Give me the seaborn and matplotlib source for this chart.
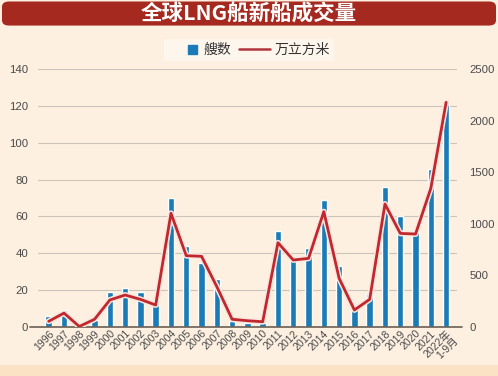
import matplotlib
matplotlib.use('Agg')
import matplotlib.pyplot as plt
import matplotlib.patheffects as pe
from matplotlib.patches import FancyBboxPatch, Rectangle, Patch
from matplotlib.lines import Line2D
from matplotlib.legend_handler import HandlerPatch
import seaborn as sns
import pandas as pd
import numpy as np

# data
years = ['1996', '1997', '1998', '1999', '2000', '2001', '2002', '2003', '2004',
         '2005', '2006', '2007', '2008', '2009', '2010', '2011', '2012', '2013',
         '2014', '2015', '2016', '2017', '2018', '2019', '2020', '2021', '2022年\n1-9月']
ships = [6, 9, 0, 4, 19, 21, 19, 12, 70, 44, 35, 26, 3, 2, 2, 52, 38, 43,
         69, 33, 10, 18, 76, 60, 52, 86, 121]
volume = [55, 135, 5, 75, 262, 310, 268, 213, 1102, 691, 685, 391, 75, 61, 51, 817,
          649, 665, 1118, 472, 165, 268, 1192, 907, 901, 1344, 2177]

bg = '#fdf0e1'
blue = '#1a7bb6'
red = '#c0282e'
num_font = ['Liberation Sans', 'Noto Sans CJK SC']

sns.set_theme(style='white')
plt.rcParams['font.family'] = ['Noto Sans CJK SC', 'DejaVu Sans']

df = pd.DataFrame({'year': years, 'ships': ships, 'volume': volume})
df['pos'] = np.arange(len(df))

fig = plt.figure(figsize=(4.98, 3.76), dpi=100, facecolor=bg)
ax = fig.add_axes([0.0763, 0.1303, 0.841, 0.6862])
ax.set_facecolor(bg)

sns.barplot(data=df, x='year', y='ships', color=blue, width=0.42,
            saturation=1, ax=ax, zorder=2)
ax.set_ylim(0, 140)
ax.set_yticks(range(0, 141, 20))
ax.set_xlim(-0.7, len(df) - 0.3)
ax.grid(axis='y', color='#cbc4ba', linewidth=0.8, zorder=0)
ax.set_axisbelow(True)
ax.set_xlabel('')
ax.set_ylabel('')
for s in ax.spines.values():
    s.set_visible(False)
ax.axhline(0, xmin=-0.02, xmax=1.013, color='#6b5f55', linewidth=1.2,
           clip_on=False, zorder=3)
ax.tick_params(axis='y', labelsize=8.2, colors='#4a4a4a', length=0, pad=7)
ax.tick_params(axis='x', labelsize=7.6, colors='#4a4a4a', length=0, pad=1)
for lab in ax.get_yticklabels():
    lab.set_family(num_font)
for lab in ax.get_xticklabels():
    lab.set_family(num_font)
plt.setp(ax.get_xticklabels(), rotation=45, ha='right', rotation_mode='anchor',
         linespacing=0.95)

ax2 = ax.twinx()
sns.lineplot(data=df, x='pos', y='volume', color=red, linewidth=2, ax=ax2,
             zorder=4,
             path_effects=[pe.withStroke(linewidth=4.2, foreground='#fbe6de')])
ax2.set_ylim(0, 2500)
ax2.set_yticks(range(0, 2501, 500))
ax2.set_xlim(-0.7, len(df) - 0.3)
ax2.set_xlabel('')
ax2.set_ylabel('')
for s in ax2.spines.values():
    s.set_visible(False)
ax2.tick_params(axis='y', labelsize=8.2, colors='#4a4a4a', length=0, pad=9)
for lab in ax2.get_yticklabels():
    lab.set_family(num_font)

# title bar
fig.patches.append(FancyBboxPatch((0.004, 0.932), 0.992, 0.064,
                                  boxstyle='round,pad=0,rounding_size=0.014',
                                  transform=fig.transFigure, facecolor='#a6291f',
                                  edgecolor='none', zorder=0))
fig.text(0.5, 0.963, '全球LNG船新船成交量', ha='center', va='center',
         color='white', fontsize=15.5, fontweight='heavy')

# bottom strip
fig.patches.append(plt.Rectangle((0, 0), 1, 0.028, transform=fig.transFigure,
                                 facecolor='#fbe2c4', edgecolor='none', zorder=0))


# small square drawn at the right end of the legend handle box
def square_handle(legend, orig_handle, xdescent, ydescent, width, height, fontsize):
    s = height * 0.95
    return Rectangle((width - s - xdescent - 1, -ydescent + (height - s) / 2), s, s)


handles = [Patch(color=blue), Line2D([], [], color='#b0343a', linewidth=1.8)]
fig.legend(handles, ['艘数', '万立方米'], loc='center', bbox_to_anchor=(0.5, 0.867),
           ncol=2, frameon=True, facecolor='#fdf8f1', edgecolor='none',
           fontsize=10, handlelength=2.2, handletextpad=0.35, columnspacing=0.6,
           borderpad=0.3, labelcolor='#333333', fancybox=True,
           handler_map={Patch: HandlerPatch(patch_func=square_handle)})

fig.savefig('out.png', dpi=100, facecolor=bg)
